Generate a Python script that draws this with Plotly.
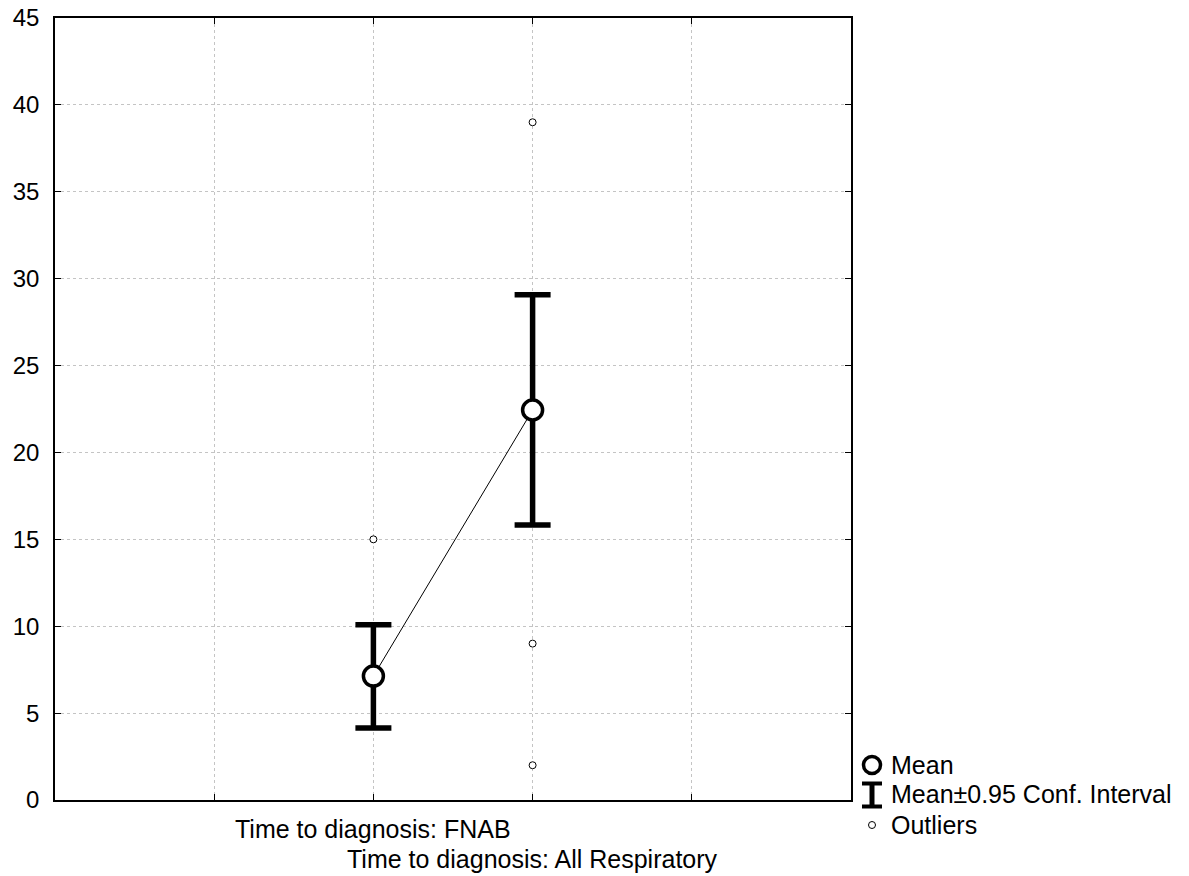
import plotly.graph_objects as go

categories = ["Time to diagnosis: FNAB", "Time to diagnosis: All Respiratory"]
cat_x = [2, 3]
means = [7.13, 22.44]
ci_upper = [10.08, 29.08]
ci_lower = [4.15, 15.82]
outlier_x = [2, 3, 3, 3]
outlier_y = [15.0, 39.0, 9.0, 2.0]
y_ticks = [0, 5, 10, 15, 20, 25, 30, 35, 40, 45]

FONT = "Liberation Sans, Arial, sans-serif"
FS = 24
FS_TXT = 25

# plot-area geometry in page pixels (reference)
PL, PR, PT, PB = 55, 851, 18, 800
W, H = 1189, 876

def px(x):
    return (x - PL) / (PR - PL)

def py(y):
    return (PB - y) / (PB - PT)

fig = go.Figure()

fig.add_trace(go.Scatter(x=cat_x, y=means, mode="lines",
                         line=dict(color="black", width=1), showlegend=False, hoverinfo="skip"))
fig.add_trace(go.Scatter(
    x=cat_x, y=means, mode="markers",
    marker=dict(size=1, color="rgba(0,0,0,0)"),
    error_y=dict(type="data", symmetric=False,
                 array=[u - m for u, m in zip(ci_upper, means)],
                 arrayminus=[m - l for m, l in zip(means, ci_lower)],
                 color="black", thickness=5.5, width=18),
    showlegend=False, hoverinfo="skip"))
fig.add_trace(go.Scatter(x=cat_x, y=means, mode="markers",
                         marker=dict(symbol="circle", size=20, color="white",
                                     line=dict(color="black", width=3.5)),
                         showlegend=False))
fig.add_trace(go.Scatter(x=outlier_x, y=outlier_y, mode="markers",
                         marker=dict(symbol="circle", size=7, color="white",
                                     line=dict(color="black", width=1)),
                         showlegend=False))

# category labels (staggered)
for cx, lab, ypix in zip(cat_x, categories, [829, 859]):
    fig.add_annotation(x=cx, xref="x", y=py(ypix), yref="paper",
                       text=lab, showarrow=False, xanchor="center", yanchor="middle",
                       font=dict(family=FONT, size=FS_TXT, color="black"))

# custom legend
LX = 872
fig.add_shape(type="circle", xref="paper", yref="paper",
              x0=px(LX - 8.5), x1=px(LX + 8.5), y0=py(773.5), y1=py(756.5),
              line=dict(color="black", width=3.5), fillcolor="white")
fig.add_shape(type="circle", xref="paper", yref="paper",
              x0=px(LX - 3.5), x1=px(LX + 3.5), y0=py(828.5), y1=py(821.5),
              line=dict(color="black", width=1), fillcolor="white")
fig.add_shape(type="line", xref="paper", yref="paper",
              x0=px(LX), x1=px(LX), y0=py(782), y1=py(808), line=dict(color="black", width=5))
for yy in (783.5, 806.5):
    fig.add_shape(type="line", xref="paper", yref="paper",
                  x0=px(LX - 10), x1=px(LX + 10), y0=py(yy), y1=py(yy),
                  line=dict(color="black", width=4))

for txt, yy in [("Mean", 765), ("Mean±0.95 Conf. Interval", 794), ("Outliers", 825)]:
    fig.add_annotation(x=px(889), xref="paper", y=py(yy), yref="paper",
                       text=txt, showarrow=False, xanchor="left", yanchor="middle",
                       font=dict(family=FONT, size=FS_TXT, color="black"))

grid = dict(showgrid=True, gridcolor="#c4c4c4", griddash="dot", gridwidth=1)

fig.update_layout(
    width=W, height=H,
    margin=dict(l=PL, r=W - PR, t=PT, b=H - PB, autoexpand=False),
    paper_bgcolor="white", plot_bgcolor="white",
    font=dict(family=FONT, size=FS, color="black"),
    showlegend=False,
    xaxis=dict(range=[0, 5], tickvals=[1, 2, 3, 4], showticklabels=False,
               ticks="inside", ticklen=6, tickcolor="black",
               showline=True, linecolor="black", linewidth=1.5, mirror="ticks",
               zeroline=False, automargin=False, **grid),
    yaxis=dict(range=[0, 45], tickvals=y_ticks, ticks="inside", ticklen=6, tickcolor="black",
               showline=True, linecolor="black", linewidth=1.5, mirror="ticks",
               zeroline=False, automargin=False, ticklabelstandoff=9,
               ticklabeloverflow="allow",
               tickfont=dict(family=FONT, size=FS), **grid),
)

fig.write_html("out.html",
               config={"displayModeBar": False},
               post_script="document.body.style.margin='0';document.body.style.overflow='hidden';")
